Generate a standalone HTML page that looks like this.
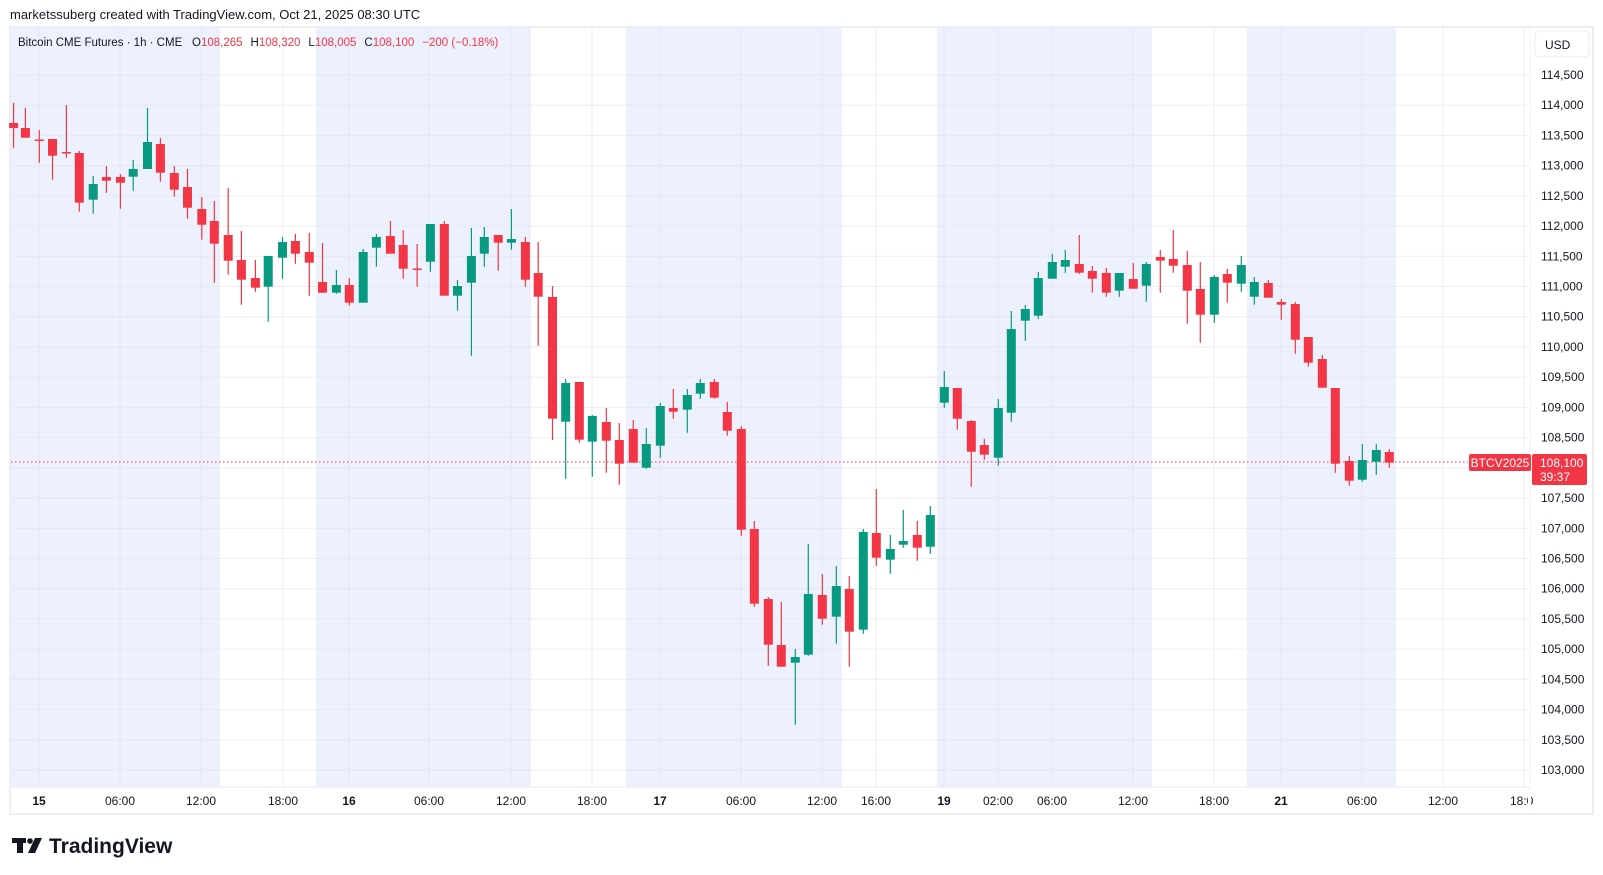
<!DOCTYPE html>
<html><head><meta charset="utf-8"><style>
html,body{margin:0;padding:0;background:#fff;width:1603px;height:875px;overflow:hidden}
svg{display:block;font-family:"Liberation Sans",sans-serif}
</style></head><body>
<svg width="1603" height="875" viewBox="0 0 1603 875" xmlns="http://www.w3.org/2000/svg">
<text x="10" y="19" font-size="13" fill="#131722">marketssuberg created with TradingView.com, Oct 21, 2025 08:30 UTC</text>
<rect x="10" y="27" width="1583" height="787" fill="#fff" stroke="#e6e8ee" stroke-width="1.5"/>
<g fill="#edf1fd">
<rect x="11" y="28" width="209" height="759"/>
<rect x="316" y="28" width="215" height="759"/>
<rect x="626" y="28" width="216" height="759"/>
<rect x="937" y="28" width="215" height="759"/>
<rect x="1247" y="28" width="149" height="759"/>
</g>
<g stroke="#e0e3eb" stroke-opacity="0.6" stroke-width="1">
<line x1="11" x2="1530" y1="75" y2="75"/><line x1="11" x2="1530" y1="105.2" y2="105.2"/><line x1="11" x2="1530" y1="135.4" y2="135.4"/><line x1="11" x2="1530" y1="165.7" y2="165.7"/><line x1="11" x2="1530" y1="195.9" y2="195.9"/><line x1="11" x2="1530" y1="226.1" y2="226.1"/><line x1="11" x2="1530" y1="256.3" y2="256.3"/><line x1="11" x2="1530" y1="286.5" y2="286.5"/><line x1="11" x2="1530" y1="316.7" y2="316.7"/><line x1="11" x2="1530" y1="347" y2="347"/><line x1="11" x2="1530" y1="377.2" y2="377.2"/><line x1="11" x2="1530" y1="407.4" y2="407.4"/><line x1="11" x2="1530" y1="437.6" y2="437.6"/><line x1="11" x2="1530" y1="467.8" y2="467.8"/><line x1="11" x2="1530" y1="498" y2="498"/><line x1="11" x2="1530" y1="528.3" y2="528.3"/><line x1="11" x2="1530" y1="558.5" y2="558.5"/><line x1="11" x2="1530" y1="588.7" y2="588.7"/><line x1="11" x2="1530" y1="618.9" y2="618.9"/><line x1="11" x2="1530" y1="649.1" y2="649.1"/><line x1="11" x2="1530" y1="679.3" y2="679.3"/><line x1="11" x2="1530" y1="709.6" y2="709.6"/><line x1="11" x2="1530" y1="739.8" y2="739.8"/><line x1="11" x2="1530" y1="770" y2="770"/>
<line y1="28" y2="787" x1="39" x2="39"/><line y1="28" y2="787" x1="120" x2="120"/><line y1="28" y2="787" x1="201" x2="201"/><line y1="28" y2="787" x1="283" x2="283"/><line y1="28" y2="787" x1="349" x2="349"/><line y1="28" y2="787" x1="429" x2="429"/><line y1="28" y2="787" x1="511" x2="511"/><line y1="28" y2="787" x1="592" x2="592"/><line y1="28" y2="787" x1="660" x2="660"/><line y1="28" y2="787" x1="741" x2="741"/><line y1="28" y2="787" x1="822" x2="822"/><line y1="28" y2="787" x1="876" x2="876"/><line y1="28" y2="787" x1="944" x2="944"/><line y1="28" y2="787" x1="998" x2="998"/><line y1="28" y2="787" x1="1052" x2="1052"/><line y1="28" y2="787" x1="1133" x2="1133"/><line y1="28" y2="787" x1="1214" x2="1214"/><line y1="28" y2="787" x1="1281" x2="1281"/><line y1="28" y2="787" x1="1362" x2="1362"/><line y1="28" y2="787" x1="1443" x2="1443"/><line y1="28" y2="787" x1="1524" x2="1524"/>
</g>
<line x1="11" x2="1530" y1="787" y2="787" stroke="#e6e8ee"/>
<line x1="1530" x2="1530" y1="28" y2="814" stroke="#f0f1f4"/>
<line x1="11" x2="1468" y1="462" y2="462" stroke="#f23645" stroke-width="1" stroke-dasharray="1.5,2.5"/>
<text x="18" y="46" font-size="11.5" fill="#131722">Bitcoin CME Futures · 1h · CME<tspan x="192">O</tspan><tspan fill="#f23645">108,265</tspan><tspan dx="8">H</tspan><tspan fill="#f23645">108,320</tspan><tspan dx="8">L</tspan><tspan fill="#f23645">108,005</tspan><tspan dx="8">C</tspan><tspan fill="#f23645">108,100</tspan><tspan dx="8" fill="#f23645">−200 (−0.18%)</tspan></text>

<g stroke="#f23645" stroke-width="1.2" fill="none">
<path d="M13.6 102.7V147.7M25.4 107.7V137.7M39.3 130V162.7M52.5 139V179.7M66.4 105V157.7M79.3 151V211.7M106.4 166V192.7M120.4 174V208.7M160.4 138V181.7M174.3 166V196.7M187.5 169V218.7M201.8 197V239.7M214.3 201V282.7M228.2 188V274.7M241.4 231V304.7M255.4 260V291.7M295.4 234V263.7M309.3 233V295.7M322.5 243V292.7M349.3 278V305.7M390.4 221V253.7M403.2 230V278.7M417.1 244V286.7M444.3 221V295.7M498.2 235V270.7M525.4 237V286.7M538.2 242V345.7M552.5 286V440M579.3 382V442.7M606.3 408V472.7M619.3 423V484.7M633.3 420V462.7M673.3 389V418.7M714.3 379V398.7M727.3 402V435.7M741.3 426V535.7M754.3 521V606.7M768.3 597V665.7M781.3 601.7V666.7M822.3 574V624.7M849.3 576V666.7M876.3 489V565.7M917.3 521V560.7M957.3 388V429.7M971.3 420V486.7M984.3 439V459.7M1079.3 235V273.7M1092.3 266V292.7M1106.3 268V296.7M1133.3 263V288.7M1160.3 250V292.7M1173.3 230V272.7M1187.3 251V323.7M1200.3 262V342.7M1227.3 269V302.7M1268.3 280V297.7M1281.3 299V319.7M1295.3 302V353.7M1308.3 337V366.7M1322.3 355V387.7M1335.3 388V472.7M1349.3 456V485.7M1389.3 449V467.7"/>
</g>
<g fill="#f23645">
<rect x="9.1" y="123" width="9" height="5"/><rect x="20.9" y="128" width="9" height="9.7"/><rect x="34.8" y="139.5" width="9" height="1.5"/><rect x="48" y="139" width="9" height="16.7"/><rect x="61.9" y="152" width="9" height="1.5"/><rect x="74.8" y="153" width="9" height="49.7"/><rect x="101.9" y="177" width="9" height="3.7"/><rect x="115.9" y="177" width="9" height="5.7"/><rect x="155.9" y="144" width="9" height="28.7"/><rect x="169.8" y="173" width="9" height="16.7"/><rect x="183" y="187" width="9" height="20.7"/><rect x="197.3" y="209" width="9" height="15.7"/><rect x="209.8" y="221" width="9" height="22.7"/><rect x="223.7" y="235" width="9" height="25.7"/><rect x="236.9" y="260" width="9" height="19.7"/><rect x="250.9" y="278" width="9" height="9.7"/><rect x="290.9" y="241" width="9" height="12.7"/><rect x="304.8" y="252" width="9" height="10.7"/><rect x="318" y="282" width="9" height="10.7"/><rect x="344.8" y="285" width="9" height="17.7"/><rect x="385.9" y="236" width="9" height="17.7"/><rect x="398.7" y="245" width="9" height="23.7"/><rect x="412.6" y="268.5" width="9" height="1.5"/><rect x="439.8" y="224" width="9" height="71.7"/><rect x="493.7" y="235" width="9" height="7.7"/><rect x="520.9" y="242" width="9" height="37.7"/><rect x="533.7" y="273" width="9" height="23.7"/><rect x="548" y="297" width="9" height="121.7"/><rect x="574.8" y="382" width="9" height="57.7"/><rect x="601.8" y="422" width="9" height="18.7"/><rect x="614.8" y="440" width="9" height="23.7"/><rect x="628.8" y="429" width="9" height="33.7"/><rect x="668.8" y="408" width="9" height="3.7"/><rect x="709.8" y="382" width="9" height="15.7"/><rect x="722.8" y="412" width="9" height="18.7"/><rect x="736.8" y="429" width="9" height="100.7"/><rect x="749.8" y="529" width="9" height="74.7"/><rect x="763.8" y="599" width="9" height="45.7"/><rect x="776.8" y="645" width="9" height="21.7"/><rect x="817.8" y="595" width="9" height="23.7"/><rect x="844.8" y="589" width="9" height="42.7"/><rect x="871.8" y="533" width="9" height="24.7"/><rect x="912.8" y="535" width="9" height="12.7"/><rect x="952.8" y="388" width="9" height="30.7"/><rect x="966.8" y="421" width="9" height="30.7"/><rect x="979.8" y="445" width="9" height="9.7"/><rect x="1074.8" y="264" width="9" height="8.7"/><rect x="1087.8" y="271" width="9" height="7.7"/><rect x="1101.8" y="273" width="9" height="19.7"/><rect x="1128.8" y="279" width="9" height="9.7"/><rect x="1155.8" y="257" width="9" height="3.7"/><rect x="1168.8" y="259" width="9" height="6.7"/><rect x="1182.8" y="265" width="9" height="25.7"/><rect x="1195.8" y="289" width="9" height="25.7"/><rect x="1222.8" y="274" width="9" height="8.7"/><rect x="1263.8" y="283" width="9" height="14.7"/><rect x="1276.8" y="302" width="9" height="2.7"/><rect x="1290.8" y="304" width="9" height="35.7"/><rect x="1303.8" y="337" width="9" height="25.7"/><rect x="1317.8" y="359" width="9" height="28.7"/><rect x="1330.8" y="388" width="9" height="75.7"/><rect x="1344.8" y="461" width="9" height="19.7"/><rect x="1384.8" y="452" width="9" height="10.7"/>
</g>
<g stroke="#089981" stroke-width="1.2" fill="none">
<path d="M93.2 176V213.7M133.2 160V190.7M147.5 108V169M268.2 256V321.7M282.5 237V278.7M336.4 270V293.7M363.2 249V302.7M376.4 234V266.7M430.4 224V271.7M457.5 280V310.7M471.4 228V355.7M484.3 227V266.7M511.4 209V249.7M565.7 379V478.7M592.3 415V476.7M646.3 428V468.7M660.3 403V457.7M687.3 389V432.7M700.3 379V398.7M795.3 649V724.7M808.3 544V655.7M836.3 566V643.7M863.3 529V633.7M890.3 535V573.7M903.3 510V547.7M930.3 506V553.7M944.3 371V407.7M998.3 399V465.7M1011.3 311V421.7M1025.3 305V340.7M1038.3 272V318.7M1052.3 254V278.7M1065.3 250V272.7M1119.3 273V296.7M1146.3 262V301.7M1214.3 275V322.7M1241.3 256V291.7M1254.3 277V304.7M1362.3 444V481.7M1376.3 444V474.7"/>
</g>
<g fill="#089981">
<rect x="88.7" y="184" width="9" height="15.7"/><rect x="128.7" y="169" width="9" height="7.7"/><rect x="143" y="142" width="9" height="27"/><rect x="263.7" y="256" width="9" height="30.7"/><rect x="278" y="242" width="9" height="15.7"/><rect x="331.9" y="285" width="9" height="7.7"/><rect x="358.7" y="252" width="9" height="50.7"/><rect x="371.9" y="237" width="9" height="10.7"/><rect x="425.9" y="224" width="9" height="37.7"/><rect x="453" y="286" width="9" height="9.7"/><rect x="466.9" y="256" width="9" height="26.7"/><rect x="479.8" y="237" width="9" height="16.7"/><rect x="506.9" y="239" width="9" height="3.7"/><rect x="561.2" y="383" width="9" height="38.7"/><rect x="587.8" y="416" width="9" height="25.7"/><rect x="641.8" y="444" width="9" height="23.7"/><rect x="655.8" y="406" width="9" height="39.7"/><rect x="682.8" y="395" width="9" height="14.7"/><rect x="695.8" y="383" width="9" height="10.7"/><rect x="790.8" y="657" width="9" height="5.7"/><rect x="803.8" y="594" width="9" height="60.7"/><rect x="831.8" y="586" width="9" height="30.7"/><rect x="858.8" y="532" width="9" height="97.7"/><rect x="885.8" y="549" width="9" height="10.7"/><rect x="898.8" y="541" width="9" height="3.7"/><rect x="925.8" y="515" width="9" height="31.7"/><rect x="939.8" y="387" width="9" height="15.7"/><rect x="993.8" y="408" width="9" height="49.7"/><rect x="1006.8" y="329" width="9" height="83.7"/><rect x="1020.8" y="309" width="9" height="11.7"/><rect x="1033.8" y="278" width="9" height="37.7"/><rect x="1047.8" y="262" width="9" height="16.7"/><rect x="1060.8" y="260" width="9" height="6.7"/><rect x="1114.8" y="273" width="9" height="17.7"/><rect x="1141.8" y="264" width="9" height="21.7"/><rect x="1209.8" y="277" width="9" height="37.7"/><rect x="1236.8" y="265" width="9" height="18.7"/><rect x="1249.8" y="282" width="9" height="14.7"/><rect x="1357.8" y="460" width="9" height="19.7"/><rect x="1371.8" y="450" width="9" height="11.7"/>
</g>

<rect x="1535" y="31" width="54" height="26" rx="4" fill="#fff" stroke="#eceef2"/>
<text x="1545" y="49" font-size="12" fill="#131722">USD</text>
<g font-size="12" fill="#131722">
<text x="1541" y="79">114,500</text><text x="1541" y="109.2">114,000</text><text x="1541" y="139.4">113,500</text><text x="1541" y="169.7">113,000</text><text x="1541" y="199.9">112,500</text><text x="1541" y="230.1">112,000</text><text x="1541" y="260.3">111,500</text><text x="1541" y="290.5">111,000</text><text x="1541" y="320.7">110,500</text><text x="1541" y="351">110,000</text><text x="1541" y="381.2">109,500</text><text x="1541" y="411.4">109,000</text><text x="1541" y="441.6">108,500</text><text x="1541" y="502">107,500</text><text x="1541" y="532.3">107,000</text><text x="1541" y="562.5">106,500</text><text x="1541" y="592.7">106,000</text><text x="1541" y="622.9">105,500</text><text x="1541" y="653.1">105,000</text><text x="1541" y="683.3">104,500</text><text x="1541" y="713.6">104,000</text><text x="1541" y="743.8">103,500</text><text x="1541" y="774">103,000</text>
</g>
<rect x="1469" y="454" width="62" height="17" rx="2" fill="#f23645"/>
<text x="1500" y="467" font-size="12" fill="#fff" text-anchor="middle">BTCV2025</text>
<rect x="1532" y="454" width="55" height="31" rx="2" fill="#f23645"/>
<text x="1540" y="467" font-size="12" fill="#fff">108,100</text>
<text x="1540" y="481" font-size="12" fill="#fff">39:37</text>
<g font-size="12" fill="#131722" text-anchor="middle">
<text x="39" y="805" font-weight="bold">15</text><text x="120" y="805">06:00</text><text x="201" y="805">12:00</text><text x="283" y="805">18:00</text><text x="349" y="805" font-weight="bold">16</text><text x="429" y="805">06:00</text><text x="511" y="805">12:00</text><text x="592" y="805">18:00</text><text x="660" y="805" font-weight="bold">17</text><text x="741" y="805">06:00</text><text x="822" y="805">12:00</text><text x="876" y="805">16:00</text><text x="944" y="805" font-weight="bold">19</text><text x="998" y="805">02:00</text><text x="1052" y="805">06:00</text><text x="1133" y="805">12:00</text><text x="1214" y="805">18:00</text><text x="1281" y="805" font-weight="bold">21</text><text x="1362" y="805">06:00</text><text x="1443" y="805">12:00</text>
</g>
<text x="1510" y="805" font-size="12" fill="#131722">18:0</text>
<rect x="1528" y="790" width="3" height="20" fill="#fff"/>
<g fill="#131722">
<rect x="12" y="838" width="14" height="5"/><rect x="17" y="838" width="6" height="15"/>
<circle cx="30" cy="841" r="2.8"/><polygon points="35,838 42,838 35,853 28,853"/>
</g>
<text x="49" y="853" font-size="21" font-weight="bold" fill="#131722">TradingView</text>
</svg>
</body></html>
